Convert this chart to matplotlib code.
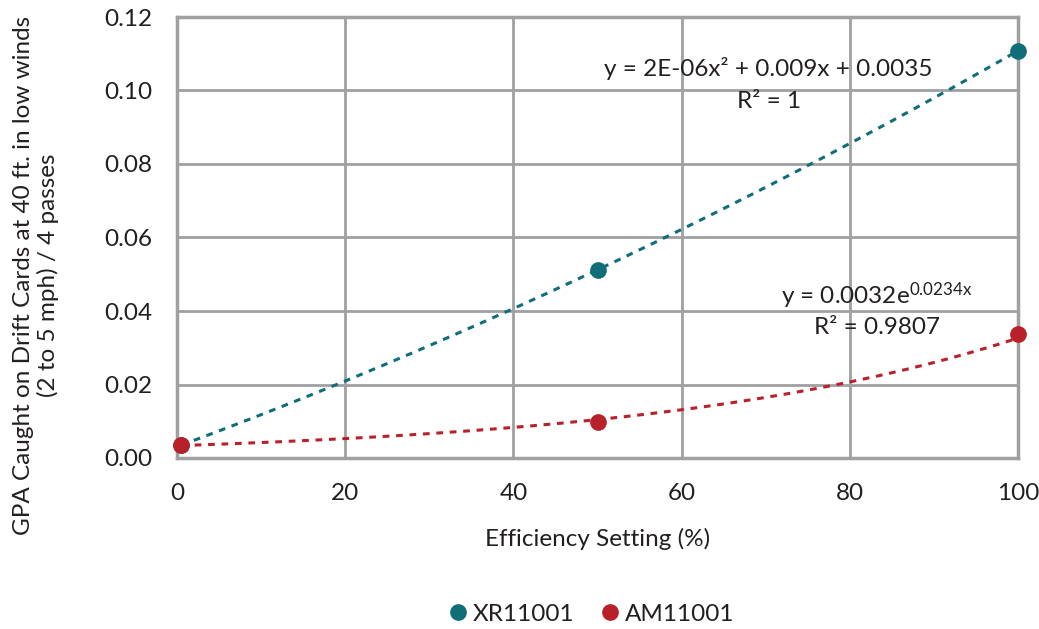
import numpy as np
import matplotlib
matplotlib.use("Agg")
import matplotlib.pyplot as plt
from matplotlib.lines import Line2D

plt.rcParams['font.family'] = ['Lato', 'DejaVu Sans']
plt.rcParams['mathtext.fontset'] = 'custom'
plt.rcParams['mathtext.rm'] = 'Lato'
plt.rcParams['mathtext.it'] = 'Lato'

# Data
efficiency = [0.5, 50, 100]
xr11001 = [0.0035, 0.0512, 0.1108]
am11001 = [0.0035, 0.0098, 0.0337]
series_names = ["XR11001", "AM11001"]
x_ticks = [0, 20, 40, 60, 80, 100]
y_ticks = [0.00, 0.02, 0.04, 0.06, 0.08, 0.10, 0.12]

teal = "#0F6E77"
red = "#B8202A"
grid_c = "#A0A0A3"
txt = "#231F20"
fs = 17.5

fig = plt.figure(figsize=(10.39, 6.29), dpi=100)
ax = fig.add_axes([177/1039, 1-458/629, (1018-177)/1039, (458-17)/629])

x = np.array(efficiency)
# trendlines
xs = np.linspace(x.min(), x.max(), 200)
pq = np.polyfit(x, xr11001, 2)
ax.plot(xs, np.polyval(pq, xs), color=teal, lw=2.2, ls=(0, (2.2, 2.2)), zorder=3)
pe = np.polyfit(x, np.log(am11001), 1)
ax.plot(xs, np.exp(np.polyval(pe, xs)), color=red, lw=2.2, ls=(0, (2.2, 2.2)), zorder=3)

ax.plot(x, xr11001, 'o', color=teal, ms=11, zorder=4, clip_on=False)
ax.plot(x, am11001, 'o', color=red, ms=11, zorder=5, clip_on=False)

ax.set_xlim(0, 100)
ax.set_ylim(0, 0.12)
ax.set_xticks(x_ticks)
ax.set_yticks(y_ticks)
ax.set_yticklabels([f"{v:.2f}" for v in y_ticks])
ax.grid(True, color=grid_c, lw=2)
ax.set_axisbelow(True)
for s in ax.spines.values():
    s.set_color(grid_c)
    s.set_linewidth(2.5)
ax.tick_params(length=0, labelsize=fs, colors=txt)
ax.tick_params(axis='x', pad=18)
ax.tick_params(axis='y', pad=18)

ax.set_xlabel("Efficiency Setting (%)", fontsize=fs, color=txt, labelpad=17)
fig.text(36/1039, 1-275/629, "GPA Caught on Drift Cards at 40 ft. in low winds\n(2 to 5 mph) / 4 passes",
         rotation=90, ha='center', va='center', fontsize=fs, color=txt, multialignment='center',
         linespacing=1.2)

fig.text(768/1039, 1-68/629, "y = 2E-06x² + 0.009x + 0.0035", ha='center', va='center',
         fontsize=fs, color=txt)
fig.text(769/1039, 1-102/629, "R² = 1", ha='center', va='center', fontsize=fs, color=txt)
fig.text(877/1039, 1-296/629, r"y = 0.0032e$^{\mathrm{0.0234x}}$", ha='center', va='center',
         fontsize=fs, color=txt)
fig.text(877/1039, 1-327/629, "R² = 0.9807", ha='center', va='center', fontsize=fs, color=txt)

handles = [Line2D([], [], ls='none', marker='o', color=teal, ms=11),
           Line2D([], [], ls='none', marker='o', color=red, ms=11)]
fig.legend(handles, series_names, loc='center', bbox_to_anchor=(590/1039, 1-614/629), ncol=2,
           frameon=False, fontsize=fs, handletextpad=0.1, columnspacing=1.0, handlelength=1.0,
           labelcolor=txt)

fig.savefig("out.png", dpi=100)
